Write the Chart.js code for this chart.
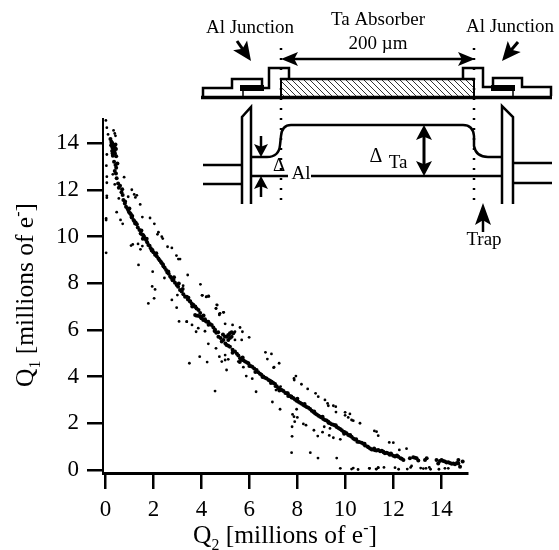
<!DOCTYPE html>
<html>
<head>
<meta charset="utf-8">
<script src="https://cdn.jsdelivr.net/npm/chart.js@4"></script>
<style>
html, body { margin: 0; background: #fff; }
#wrap { position: relative; width: 559px; height: 550px; }
</style>
</head>
<body>
<div id="wrap"><canvas id="plot"></canvas></div>
<script>
const xTicks = [0, 2, 4, 6, 8, 10, 12, 14];
const yTicks = [0, 2, 4, 6, 8, 10, 12, 14];

// Dense band of events
const bandQ2 = [
  .21,.25,.29,.42,.24,.34,.29,.39,.34,.28,
  .38,.34,.31,.45,.36,.42,.45,.39,.47,.53,
  .61,.56,.67,.72,.75,.81,.86,.95,1.03,1.09,
  .92,.98,1.06,1.12,1.10,1.17,1.2,1.24,1.31,1.35,
  1.42,1.47,1.53,1.61,1.58,1.66,1.70,1.74,1.79,1.84,
  1.89,1.93,2.0,2.07,2.14,2.21,2.26,2.31,2.35,2.42,
  2.47,2.53,2.58,2.64,2.70,2.75,2.8,2.84,2.9,2.97,
  3.03,3.11,3.18,3.25,3.32,3.39,3.44,3.53,3.53,3.6,
  3.66,3.74,3.74,3.8,3.88,3.95,4.02,4.09,4.15,4.22,
  3.74,3.84,3.94,4.0,4.08,4.18,4.29,4.36,4.43,4.5,
  4.57,4.62,4.71,4.8,4.85,4.92,5.0,5.05,5.12,5.19,
  4.9,4.98,5.05,5.12,5.19,5.26,5.33,5.12,5.19,5.26,
  5.4,5.3,5.48,5.54,5.61,5.68,5.75,5.82,5.9,5.96,
  6.05,6.12,6.2,6.3,6.37,6.44,6.5,6.58,6.65,6.72,
  6.8,6.86,6.93,7.0,7.07,7.14,7.21,7.28,7.35,7.42,
  7.5,7.56,7.62,7.69,7.76,7.83,7.9,7.97,8.04,8.11,
  8.18,8.25,8.32,8.39,8.46,8.53,8.6,8.67,8.74,8.81,
  8.88,8.95,9.01,9.08,9.15,9.22,9.29,9.36,9.43,9.5,
  9.57,9.64,9.71,9.78,9.85,9.92,9.98,10.05,10.12,10.19,
  10.26,10.33,10.4,10.5,10.58,10.68,10.75,10.82,10.92,10.96,
  11.03,11.1,11.17,11.24,11.3,11.37,11.45,11.52,11.58,11.65,
  11.72,11.79,11.85,11.92,12.0,12.07,12.14,12.21,12.3,12.42,
  12.69,12.83,12.9,12.97,13.04,13.32,13.39,13.8,13.87,13.94,
  14.01,14.08,14.15,14.22,14.29,14.36,14.43,14.5,14.57,14.65,
  14.71,14.71,14.78,14.89,
  .26,.44,.3,.4,.5,.44,.7,.82,1.0,1.26,
  1.5,1.56,1.72,1.96,2.12,2.4,2.62,2.86,3.06,3.22,
  3.46,3.62,4.3,4.55,4.7,5.3,5.6,5.72,6.0,6.25,
  6.55,6.9,7.25,7.6,7.75,8.0,8.3,8.7,9.05,9.3,
  9.6,9.95,10.2,10.45,10.8,11.2,11.6,11.9,12.15,12.35
];
const bandQ1 = [
  14.17,14.06,13.99,13.94,13.91,13.89,13.81,13.81,13.73,13.66,
  13.66,13.59,13.46,13.43,13.2,13.06,12.94,12.8,12.49,12.27,
  12.17,12.09,11.89,11.77,11.56,11.41,11.27,11.13,10.99,10.84,
  11.2,11.05,10.95,10.88,10.81,10.7,10.66,10.55,10.52,10.38,
  10.28,10.13,10.08,9.99,10.05,9.9,9.85,9.75,9.63,9.6,
  9.49,9.4,9.32,9.22,9.15,9.06,8.98,8.92,8.85,8.72,
  8.66,8.56,8.46,8.4,8.28,8.22,8.12,8.13,8.02,7.92,
  7.85,7.71,7.64,7.52,7.42,7.42,7.3,7.23,7.21,7.12,
  7.08,6.99,7.0,6.92,6.85,6.72,6.56,6.62,6.45,6.35,
  6.64,6.6,6.57,6.5,6.42,6.38,6.35,6.25,6.21,6.1,
  6.0,5.88,5.71,5.65,5.5,5.57,5.42,5.35,5.32,5.28,
  5.8,5.72,5.71,5.78,5.85,5.71,5.85,5.57,5.65,5.9,
  5.07,5.15,4.98,4.9,4.78,4.72,4.7,4.64,4.6,4.57,
  4.45,4.42,4.35,4.28,4.18,4.12,4.08,4.0,3.95,3.92,
  3.85,3.82,3.78,3.72,3.68,3.58,3.5,3.46,3.42,3.38,
  3.3,3.28,3.17,3.17,3.1,3.08,3.02,2.96,2.92,2.88,
  2.84,2.78,2.74,2.7,2.66,2.61,2.54,2.48,2.42,2.38,
  2.32,2.28,2.25,2.18,2.14,2.12,2.07,2.0,1.96,1.94,
  1.9,1.84,1.8,1.75,1.7,1.64,1.62,1.57,1.5,1.46,
  1.42,1.35,1.3,1.21,1.2,1.17,1.12,1.05,1.0,.97,
  .92,.88,.88,.84,.83,.85,.8,.82,.78,.72,
  .74,.71,.65,.66,.61,.58,.6,.57,.5,.43,
  .5,.54,.52,.5,.4,.43,.5,.43,.28,.38,
  .43,.38,.36,.32,.33,.3,.27,.28,.25,.3,
  .28,.43,.14,.36,
  14.0,13.75,13.55,13.55,13.12,12.7,12.02,11.5,11.2,10.6,
  10.25,9.9,9.9,9.42,9.28,8.8,8.5,8.25,7.98,7.75,
  7.38,7.0,6.22,5.95,5.9,5.02,4.62,4.82,4.45,4.2,
  3.98,3.72,3.4,3.28,3.15,3.05,2.82,2.5,2.28,2.02,
  1.92,1.55,1.5,1.32,1.12,.92,.76,.7,.62,.48
];

// Scattered events away from the band
const scatterQ2 = [
  .02,.06,.34,.39,.11,.42,.06,.04,.06,.31,
  .78,.06,.39,.06,.06,.56,.95,1.1,1.2,1.31,
  1.25,1.45,.47,1.54,1.86,2.04,.03,.03,.63,.72,
  .03,2.21,2.17,2.35,2.39,2.59,2.77,2.96,3.04,3.11,
  1.07,1.14,1.36,1.54,1.46,1.38,1.97,2.46,3.43,3.96,
  3.24,1.95,2.07,2.03,1.79,2.77,3.0,2.97,4.03,4.2,
  4.31,4.66,4.61,4.75,4.93,3.07,3.39,3.77,4.99,
  4.04,4.22,4.30,4.64,4.61,4.92,4.78,4.75,3.39,3.61,
  3.87,3.78,4.15,5.3,5.61,5.71,5.4,5.99,5.68,5.4,
  4.29,4.61,4.99,5.12,4.99,4.75,4.85,3.93,4.24,3.5,
  5.05,5.75,5.54,6.67,6.92,6.75,7.24,7.01,5.87,6.12,
  4.57,6.28,7.07,7.28,
  7.03,7.94,7.86,7.87,8.17,8.43,8.76,8.87,9.15,9.26,
  9.29,9.5,9.6,9.61,9.99,9.99,10.19,10.12,10.26,10.33,
  10.61,11.21,11.3,11.37,7.28,6.96,7.11,7.3,7.8,7.86,
  8.0,7.89,7.78,8.25,8.36,7.78,8.69,8.85,9.05,9.12,
  9.33,9.5,9.79,9.36,7.76,8.54,8.86,9.64,9.79,10.26,
  10.33,10.53,11.0,11.28,11.37,7.97,
  11.83,12.0,12.25,12.55,12.76,11.01,11.3,11.37,11.61,12.07,
  12.22,12.58,12.72,13.14,13.25,13.36,13.5,13.55,13.9,14.15,14.29
];
const scatterQ1 = [
  14.97,14.66,14.54,14.41,14.37,14.31,13.51,13.03,12.56,12.66,
  12.54,12.3,12.23,11.74,11.66,11.63,11.7,12,11.8,11.76,
  11.67,11.37,11.04,10.83,10.79,10.54,10.77,10.7,10.71,10.54,
  9.3,10.18,10.09,9.99,9.91,9.56,9.51,9.18,9.03,9.03,
  9.61,9.66,9.68,9.59,9.45,8.78,8.49,8.22,8.35,7.95,
  7.89,7.86,7.73,7.35,7.13,7.28,7.49,6.95,7.48,7.41,
  7.43,7.06,6.92,6.68,6.75,6.36,6.35,6.59,6.26,
  7.48,7.42,7.45,7.07,6.92,6.75,6.71,6.64,6.35,6.21,
  6.07,5.92,5.94,6.21,6.1,5.92,5.92,5.68,5.57,5.57,
  5.4,5.21,4.92,4.74,4.71,4.85,4.64,4.85,4.62,4.57,
  4.28,4.4,4.64,5.04,4.97,4.75,4.57,4.38,4.02,3.91,
  3.38,3.35,3.57,3.42,
  4.4,4.02,3.92,3.85,3.67,3.47,3.28,3.14,3.0,2.85,
  2.75,2.75,2.71,2.48,2.47,2.34,2.4,2.25,2.14,2.11,
  2.0,1.67,1.64,1.47,2.6,2.91,3.42,3.57,2.38,2.28,
  2.25,2.07,1.85,1.97,1.92,1.44,1.7,1.45,1.62,1.85,
  1.48,1.38,1.31,1.78,.74,.74,.51,.51,.07,.04,
  .08,.02,.07,.04,.1,2.6,
  1.18,1.17,.86,.91,.17,.07,.04,.1,.11,.1,
  .03,.04,.11,.08,.06,.07,.11,.03,.03,.07,.07
];

const serif = '"Liberation Serif", "Times New Roman", serif';

function toPoints(xs, ys) {
  return xs.map((x, i) => ({ x: x, y: ys[i] }));
}

// Text with sub/superscript runs: [string, 'sub' | 'sup' | undefined]
function drawRuns(ctx, runs, size) {
  let total = 0;
  const measured = runs.map(r => {
    ctx.font = (r[1] ? size * 0.62 : size) + 'px ' + serif;
    const w = ctx.measureText(r[0]).width;
    total += w;
    return w;
  });
  let x = -total / 2;
  runs.forEach((r, i) => {
    ctx.font = (r[1] ? size * 0.62 : size) + 'px ' + serif;
    const dy = r[1] === 'sub' ? size * 0.26 : r[1] === 'sup' ? -size * 0.38 : 0;
    ctx.fillText(r[0], x, dy);
    x += measured[i];
  });
}

function line(ctx, pts, width) {
  ctx.lineWidth = width;
  ctx.beginPath();
  pts.forEach((p, i) => i ? ctx.lineTo(p[0], p[1]) : ctx.moveTo(p[0], p[1]));
  ctx.stroke();
}

// Filled barbed arrow head at (x2,y2), with optional shaft from (x1,y1)
function arrow(ctx, x1, y1, x2, y2, len, wid, shaft) {
  const a = Math.atan2(y2 - y1, x2 - x1);
  if (shaft) line(ctx, [[x1, y1], [x2 - Math.cos(a) * len * 0.7, y2 - Math.sin(a) * len * 0.7]], shaft);
  ctx.save();
  ctx.translate(x2, y2);
  ctx.rotate(a);
  ctx.beginPath();
  ctx.moveTo(0, 0);
  ctx.lineTo(-len, -wid / 2);
  ctx.lineTo(-len * 0.78, 0);
  ctx.lineTo(-len, wid / 2);
  ctx.closePath();
  ctx.fill();
  ctx.restore();
}

function label(ctx, text, x, y, size, align) {
  ctx.font = size + 'px ' + serif;
  ctx.textAlign = align || 'center';
  ctx.fillText(text, x, y);
}

// Device sketch and energy diagram above the plot
function drawInset(ctx) {
  ctx.save();
  ctx.fillStyle = '#000';
  ctx.strokeStyle = '#000';
  ctx.textBaseline = 'alphabetic';
  ctx.lineCap = 'butt';

  label(ctx, 'Al Junction', 250, 33, 19);
  label(ctx, 'Ta Absorber', 378, 25, 19);
  label(ctx, '200 µm', 378, 49, 19);
  label(ctx, 'Al Junction', 510, 32, 19);

  arrow(ctx, 237, 41, 251, 61, 19, 17, 3);
  arrow(ctx, 518, 42, 502, 61, 19, 17, 3);
  arrow(ctx, 378, 59, 281, 59, 17, 14, 2.5);
  arrow(ctx, 378, 59, 475, 59, 17, 14, 2.5);

  // dotted guides
  ctx.setLineDash([2, 8]);
  line(ctx, [[281, 48], [281, 205]], 2.5);
  line(ctx, [[474, 48], [474, 205]], 2.5);
  ctx.setLineDash([]);

  // substrate and layers
  line(ctx, [[201, 97.5], [552, 97.5]], 3.5);
  ctx.save();
  ctx.beginPath();
  ctx.rect(281, 79, 193, 17);
  ctx.clip();
  ctx.strokeStyle = '#333';
  for (let i = -20; i < 200; i += 6) line(ctx, [[281 + i, 79], [281 + i + 17, 96]], 1);
  ctx.restore();
  line(ctx, [[280, 79], [475, 79]], 2.5);
  line(ctx, [[281, 79], [281, 97]], 2);
  line(ctx, [[474, 79], [474, 97]], 2);

  line(ctx, [[203, 96], [203, 88], [232, 88], [232, 79], [262, 79], [262, 88], [269, 88], [269, 68], [289, 68], [289, 78]], 2.5);
  line(ctx, [[551, 96], [551, 87], [522, 87], [522, 78], [493, 78], [493, 87], [483, 87], [483, 68], [463, 68], [463, 78]], 2.5);
  ctx.fillRect(240, 85, 24, 6);
  ctx.fillRect(491, 85, 24, 6);
  line(ctx, [[243, 91], [243, 97]], 1.5);
  line(ctx, [[513, 91], [513, 97]], 1.5);

  // energy diagram
  line(ctx, [[242, 204], [242, 117], [251, 107], [251, 204]], 2.5);
  line(ctx, [[502, 204], [502, 106], [513, 117], [513, 204]], 2.5);
  line(ctx, [[203, 165], [242, 165]], 2.5);
  line(ctx, [[203, 184], [242, 184]], 2.5);
  line(ctx, [[513, 163], [552, 163]], 2.5);
  line(ctx, [[513, 183], [552, 183]], 2.5);

  ctx.lineWidth = 2.5;
  ctx.beginPath();
  ctx.moveTo(251, 157);
  ctx.lineTo(267, 157);
  ctx.quadraticCurveTo(279, 157, 280, 145);
  ctx.lineTo(281, 136);
  ctx.quadraticCurveTo(282, 125, 291, 125);
  ctx.lineTo(463, 125);
  ctx.quadraticCurveTo(473, 125, 474, 136);
  ctx.lineTo(474, 146);
  ctx.quadraticCurveTo(476, 157, 488, 157);
  ctx.lineTo(502, 157);
  ctx.stroke();
  line(ctx, [[251, 176], [288, 176]], 2.5);
  line(ctx, [[311, 176], [502, 176]], 2.5);

  arrow(ctx, 261, 136, 261, 157, 13, 14, 2.5);
  arrow(ctx, 261, 197, 261, 176, 13, 14, 2.5);
  arrow(ctx, 424, 150, 424, 125, 15, 16, 3);
  arrow(ctx, 424, 150, 424, 176, 15, 16, 3);
  arrow(ctx, 483, 232, 483, 203, 22, 16, 2.5);

  label(ctx, 'Δ', 279, 171, 19);
  label(ctx, 'Al', 301, 179, 19);
  label(ctx, 'Δ', 376, 162, 20);
  label(ctx, 'Ta', 398, 168, 19);
  label(ctx, 'Trap', 484, 245, 19);
  ctx.restore();
}

const annotations = {
  id: 'annotations',
  afterDraw(chart) {
    const ctx = chart.ctx;
    ctx.save();
    ctx.fillStyle = '#000';
    ctx.textBaseline = 'alphabetic';
    ctx.textAlign = 'left';
    ctx.save();
    ctx.translate(285, 543);
    drawRuns(ctx, [['Q'], ['2', 'sub'], [' [millions of e'], ['-', 'sup'], [']']], 25.5);
    ctx.restore();
    ctx.save();
    ctx.translate(33, 295);
    ctx.rotate(-Math.PI / 2);
    drawRuns(ctx, [['Q'], ['1', 'sub'], [' [millions of e'], ['-', 'sup'], [']']], 25.5);
    ctx.restore();
    ctx.restore();
    drawInset(ctx);
  }
};

new Chart(document.getElementById('plot').getContext('2d'), {
  type: 'scatter',
  data: {
    datasets: [
      { label: 'band', data: toPoints(bandQ2, bandQ1), backgroundColor: '#000', borderWidth: 0, pointRadius: 2 },
      { label: 'scatter', data: toPoints(scatterQ2, scatterQ1), backgroundColor: '#000', borderWidth: 0, pointRadius: 1.4 }
    ]
  },
  options: {
    responsive: true,
    maintainAspectRatio: false,
    animation: false,
    layout: { padding: { top: 119, right: 92, left: 0, bottom: 0 } },
    plugins: { legend: { display: false }, tooltip: { enabled: false } },
    scales: {
      x: {
        type: 'linear',
        min: -0.1,
        max: 15.07,
        afterBuildTicks: s => { s.ticks = xTicks.map(v => ({ value: v })); },
        afterFit: s => { s.height = 77; },
        border: { color: '#000', width: 3 },
        grid: { drawOnChartArea: false, color: '#000', lineWidth: 2.5, tickLength: 16 },
        ticks: { color: '#000', font: { family: serif, size: 23 }, maxRotation: 0, autoSkip: false, padding: 7 }
      },
      y: {
        type: 'linear',
        min: -0.13,
        max: 15.03,
        afterBuildTicks: s => { s.ticks = yTicks.map(v => ({ value: v })); },
        afterFit: s => { s.width = 103; },
        border: { color: '#000', width: 2 },
        grid: { drawOnChartArea: false, color: '#000', lineWidth: 2.5, tickLength: 16 },
        ticks: { color: '#000', font: { family: serif, size: 23 }, autoSkip: false, padding: 8 }
      }
    }
  },
  plugins: [annotations]
});
</script>
</body>
</html>
